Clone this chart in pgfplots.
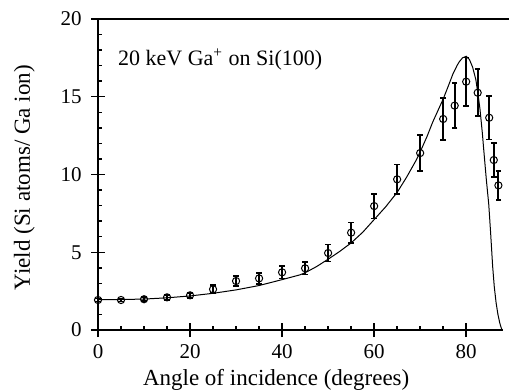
\documentclass[border=0pt]{standalone}
\usepackage{fontspec}
\setmainfont{Liberation Serif}
\usepackage{pgfplots}
\pgfplotsset{compat=1.18}
\usepackage{pgfplotstable}
\pgfplotstableread{
x y e
0 1.93 0.1
5 1.93 0.1
10 1.98 0.12
15 2.10 0.15
20 2.23 0.15
25 2.62 0.25
30 3.15 0.3
35 3.32 0.35
40 3.71 0.4
45 3.97 0.4
50 4.95 0.55
55 6.26 0.65
60 7.97 0.8
65 9.69 0.95
70 11.38 1.15
75 13.57 1.35
77.5 14.43 1.45
80 15.97 1.55
82.5 15.26 1.5
85 13.65 1.4
86 10.93 1.1
87 9.30 0.95
}\measured
\pgfplotstableread{
x y
0 1.95
5 1.96
10 1.99
15 2.07
20 2.19
25 2.36
30 2.58
35 2.86
40 3.24
43.8 3.54
45 3.68
47.5 4.08
50.3 4.61
52.5 5.05
55 5.60
57.5 6.28
60 7.10
62.5 7.92
65 8.85
67 9.80
69.1 10.90
70 11.45
71.5 12.45
72.7 13.35
74 14.2
75 14.85
76 15.6
77.1 16.45
78 17.0
78.5 17.25
79.2 17.5
80 17.6
80.7 17.4
81.4 16.9
82.1 16.1
82.6 15.1
83.0 14.2
83.5 12.7
83.9 11.3
84.4 9.6
84.9 8.1
85.3 6.3
85.75 4.1
86.1 2.8
86.5 1.75
86.9 1.0
87.3 0.45
87.6 0.15
87.8 0
}\curve
\begin{document}
\begin{tikzpicture}
\begin{axis}[
  name=ax,
  scale only axis,
  width=202.5pt, height=155.5pt,
  xmin=0, xmax=88, ymin=0, ymax=20,
  separate axis lines,
  axis x line*=bottom, axis y line*=left,
  axis line style={line width=0.8pt},
  xtick={0,20,40,60,80}, ytick={0,5,10,15,20},
  minor x tick num=3, minor y tick num=4,
  tick align=center,
  major tick length=7pt, minor tick length=2pt,
  tick style={black, line width=0.7pt},
  minor x tick style={yshift=1pt},
  minor y tick style={xshift=1pt},
  /pgf/number format/assume math mode=true,
  tick label style={font=\fontsize{10.5}{12}\selectfont, inner sep=0pt},
  xticklabel style={anchor=north, yshift=-3.5pt},
  yticklabel style={anchor=east, xshift=-4.5pt},
  every axis x label/.style={at={(rel axis cs:0.44,0)}, anchor=base, yshift=-27.5pt, font=\fontsize{11.5}{13}\selectfont},
  every axis y label/.style={at={(rel axis cs:0,0.49)}, rotate=90, anchor=base, yshift=34pt, font=\fontsize{11.5}{13}\selectfont},
  xlabel={Angle of incidence (degrees)},
  ylabel={Yield (Si atoms/ Ga ion)},
  clip=false,
]
\draw[line width=0.8pt] (rel axis cs:0,1) -- ([xshift=3pt]rel axis cs:1,1);
\addplot[black, line width=0.5pt, no marks] table[x=x,y=y] {\curve};
\addplot[black, only marks, mark=o, mark size=1.8pt, mark options={line width=0.5pt},
  error bars/.cd, y dir=both, y explicit,
  error bar style={line width=0.9pt},
  error mark options={rotate=90, mark size=1.4pt, line width=0.9pt}]
  table[x=x,y=y,y error=e] {\measured};
\node[anchor=base west, font=\fontsize{11}{13}\selectfont, inner sep=0pt] at (axis cs:4.3,17.0) {20 keV Ga\textsuperscript{+} on Si(100)};
\end{axis}
\pgfresetboundingbox
\path[use as bounding box] ([shift={(-49pt,-30pt)}]ax.south west) rectangle ([shift={(3pt,9.5pt)}]ax.north east);
\end{tikzpicture}
\end{document}
